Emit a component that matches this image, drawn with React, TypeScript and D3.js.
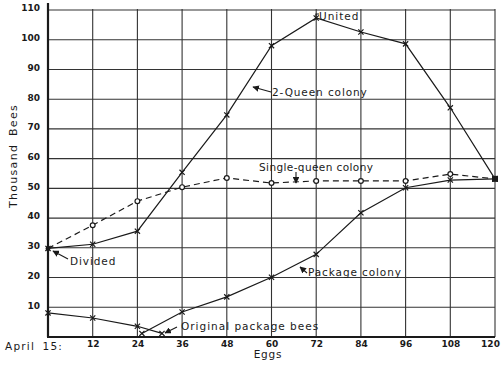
import React, { Component } from 'react';
import * as d3 from 'd3';

// x is "eggs" days after April 15, y is thousand bees
const xTicks = [12, 24, 36, 48, 60, 72, 84, 96, 108, 120];
const yTicks = [10, 20, 30, 40, 50, 60, 70, 80, 90, 100, 110];

const twoQueenDays = [0, 12, 24, 36, 48, 60, 72, 84, 96, 108, 120];
const twoQueenBees = [29.8, 31.2, 35.6, 55.4, 74.7, 98, 107.3, 102.6, 98.6, 77.1, 53.2];

const singleQueenDays = [0, 12, 24, 36, 48, 60, 72, 84, 96, 108, 120];
const singleQueenBees = [29.8, 37.6, 45.7, 50.4, 53.5, 51.8, 52.5, 52.5, 52.5, 54.8, 53.2];

const packageDays = [25.2, 36, 48, 60, 72, 84, 96, 108, 120];
const packageBees = [1.2, 8.4, 13.5, 20.1, 27.8, 41.8, 50.2, 52.8, 53.2];

const originalDays = [0, 12, 24, 30.6];
const originalBees = [8.1, 6.4, 3.6, 1.2];

class BeeChart extends Component {
  componentDidMount() {
    this.draw();
  }

  draw() {
    const width = 504;
    const height = 366;
    const ink = '#1a1a1a';
    const font = '"DejaVu Sans", sans-serif';

    const svg = d3.select(this.chartRef);
    svg.selectAll('*').remove();
    svg.attr('width', width).attr('height', height)
      .style('position', 'absolute').style('left', 0).style('top', 0)
      .style('background', '#fff');

    const x = d3.scaleLinear().domain([0, 120]).range([48, 495]);
    const y = d3.scaleLinear().domain([0, 110]).range([337, 10]);

    svg.append('defs').append('marker')
      .attr('id', 'arr')
      .attr('viewBox', '0 0 10 10')
      .attr('refX', 9).attr('refY', 5)
      .attr('markerWidth', 6).attr('markerHeight', 6)
      .attr('orient', 'auto-start-reverse')
      .append('path').attr('d', 'M0,0L10,5L0,10z').attr('fill', ink);

    // grid
    const grid = svg.append('g').attr('stroke', '#333').attr('stroke-width', 1.1);
    grid.selectAll('line.v').data(xTicks).join('line')
      .attr('x1', d => x(d)).attr('x2', d => x(d))
      .attr('y1', y(110) - 1).attr('y2', y(0));
    grid.selectAll('line.h').data(yTicks).join('line')
      .attr('x1', x(0)).attr('x2', x(120))
      .attr('y1', d => y(d)).attr('y2', d => y(d));

    // axes
    svg.append('line').attr('x1', x(0)).attr('x2', x(0)).attr('y1', 3).attr('y2', y(0))
      .attr('stroke', ink).attr('stroke-width', 2.2);
    svg.append('line').attr('x1', x(0) - 1).attr('x2', x(120)).attr('y1', y(0)).attr('y2', y(0))
      .attr('stroke', ink).attr('stroke-width', 2.2);

    const xAxis = svg.append('g').attr('transform', `translate(0,${y(0)})`)
      .call(d3.axisBottom(x).tickValues(xTicks).tickSize(0).tickPadding(4))
      .call(g => g.select('.domain').remove());
    xAxis.selectAll('text').attr('font-family', font).attr('font-size', 9)
      .attr('font-weight', 'bold').attr('fill', ink)
      .attr('dx', d => (d === 120 ? -5 : 0));

    const yAxis = svg.append('g').attr('transform', `translate(40,0)`)
      .call(d3.axisLeft(y).tickValues(yTicks).tickSize(0).tickPadding(0))
      .call(g => g.select('.domain').remove());
    yAxis.selectAll('text').attr('font-family', font).attr('font-size', 9)
      .attr('font-weight', 'bold').attr('fill', ink).attr('dy', '0.1em');

    svg.append('text').attr('x', 5).attr('y', y(0) + 13)
      .attr('font-family', font).attr('font-size', 10.5).attr('letter-spacing', 1.2)
      .attr('word-spacing', 3)
      .attr('fill', ink).text('April 15:');

    svg.append('text').attr('x', 268).attr('y', 358).attr('text-anchor', 'middle')
      .attr('font-family', font).attr('font-size', 10.5).attr('letter-spacing', 0.8)
      .attr('fill', ink).text('Eggs');

    svg.append('text').attr('transform', 'translate(17,156) rotate(-90)')
      .attr('text-anchor', 'middle')
      .attr('font-family', font).attr('font-size', 11).attr('letter-spacing', 1.3)
      .attr('word-spacing', 3)
      .attr('fill', ink).text('Thousand Bees');

    const line = d3.line().x(d => x(d[0])).y(d => y(d[1]));
    const zip = (xs, ys) => xs.map((d, i) => [d, ys[i]]);

    const series = [
      { pts: zip(twoQueenDays, twoQueenBees), dash: null, mark: 'x' },
      { pts: zip(singleQueenDays, singleQueenBees), dash: '6,4', mark: 'o' },
      { pts: zip(packageDays, packageBees), dash: null, mark: 'x' },
      { pts: zip(originalDays, originalBees), dash: null, mark: 'x' },
    ];

    series.forEach(s => {
      svg.append('path').datum(s.pts)
        .attr('d', line)
        .attr('fill', 'none').attr('stroke', ink).attr('stroke-width', 1.2)
        .attr('stroke-dasharray', s.dash);
      if (s.mark === 'o') {
        svg.append('g').selectAll('circle').data(s.pts.slice(1, -1)).join('circle')
          .attr('cx', d => x(d[0])).attr('cy', d => y(d[1])).attr('r', 2.4)
          .attr('fill', '#fff').attr('stroke', ink).attr('stroke-width', 1.2);
      } else {
        svg.append('g').selectAll('path').data(s.pts).join('path')
          .attr('d', d => {
            const px = x(d[0]), py = y(d[1]), r = 2.6;
            return `M${px - r},${py - r}L${px + r},${py + r}M${px - r},${py + r}L${px + r},${py - r}`;
          })
          .attr('stroke', ink).attr('stroke-width', 1.2);
      }
    });

    // end dots at divide / unite
    svg.append('circle').attr('cx', x(0)).attr('cy', y(29.8)).attr('r', 2.4).attr('fill', ink);
    svg.append('rect').attr('x', x(120) - 3).attr('y', y(53.2) - 3).attr('width', 6).attr('height', 6).attr('fill', ink);

    // annotations
    const labels = [
      { text: 'United', x: 319, y: 20, ls: 1.0 },
      { text: '2-Queen colony', x: 272, y: 96, ls: 0.9 },
      { text: 'Single-queen colony', x: 259, y: 171, ls: 0.4 },
      { text: 'Divided', x: 70, y: 265, ls: 0.9 },
      { text: 'Package colony', x: 308, y: 276, ls: 0.9 },
      { text: 'Original package bees', x: 181, y: 330, ls: 1.0 },
    ];
    svg.append('g').selectAll('text').data(labels).join('text')
      .attr('x', d => d.x).attr('y', d => d.y)
      .attr('font-family', font).attr('font-size', 10.5)
      .attr('letter-spacing', d => d.ls)
      .attr('fill', ink).text(d => d.text);

    const arrows = [
      [271, 92, 253, 87],
      [296, 172, 296, 183],
      [68, 259, 53, 251],
      [307, 273, 300, 267],
      [177, 327, 165, 333],
    ];
    svg.append('g').selectAll('line').data(arrows).join('line')
      .attr('x1', d => d[0]).attr('y1', d => d[1]).attr('x2', d => d[2]).attr('y2', d => d[3])
      .attr('stroke', ink).attr('stroke-width', 1.1).attr('marker-end', 'url(#arr)');

    // little bracket by United
    svg.append('path').attr('d', 'M316,20L316,14L319,14')
      .attr('fill', 'none').attr('stroke', ink).attr('stroke-width', 1.2);
  }

  render() {
    return <svg ref={ref => (this.chartRef = ref)}></svg>;
  }
}

export default function App() {
  return <BeeChart />;
}
